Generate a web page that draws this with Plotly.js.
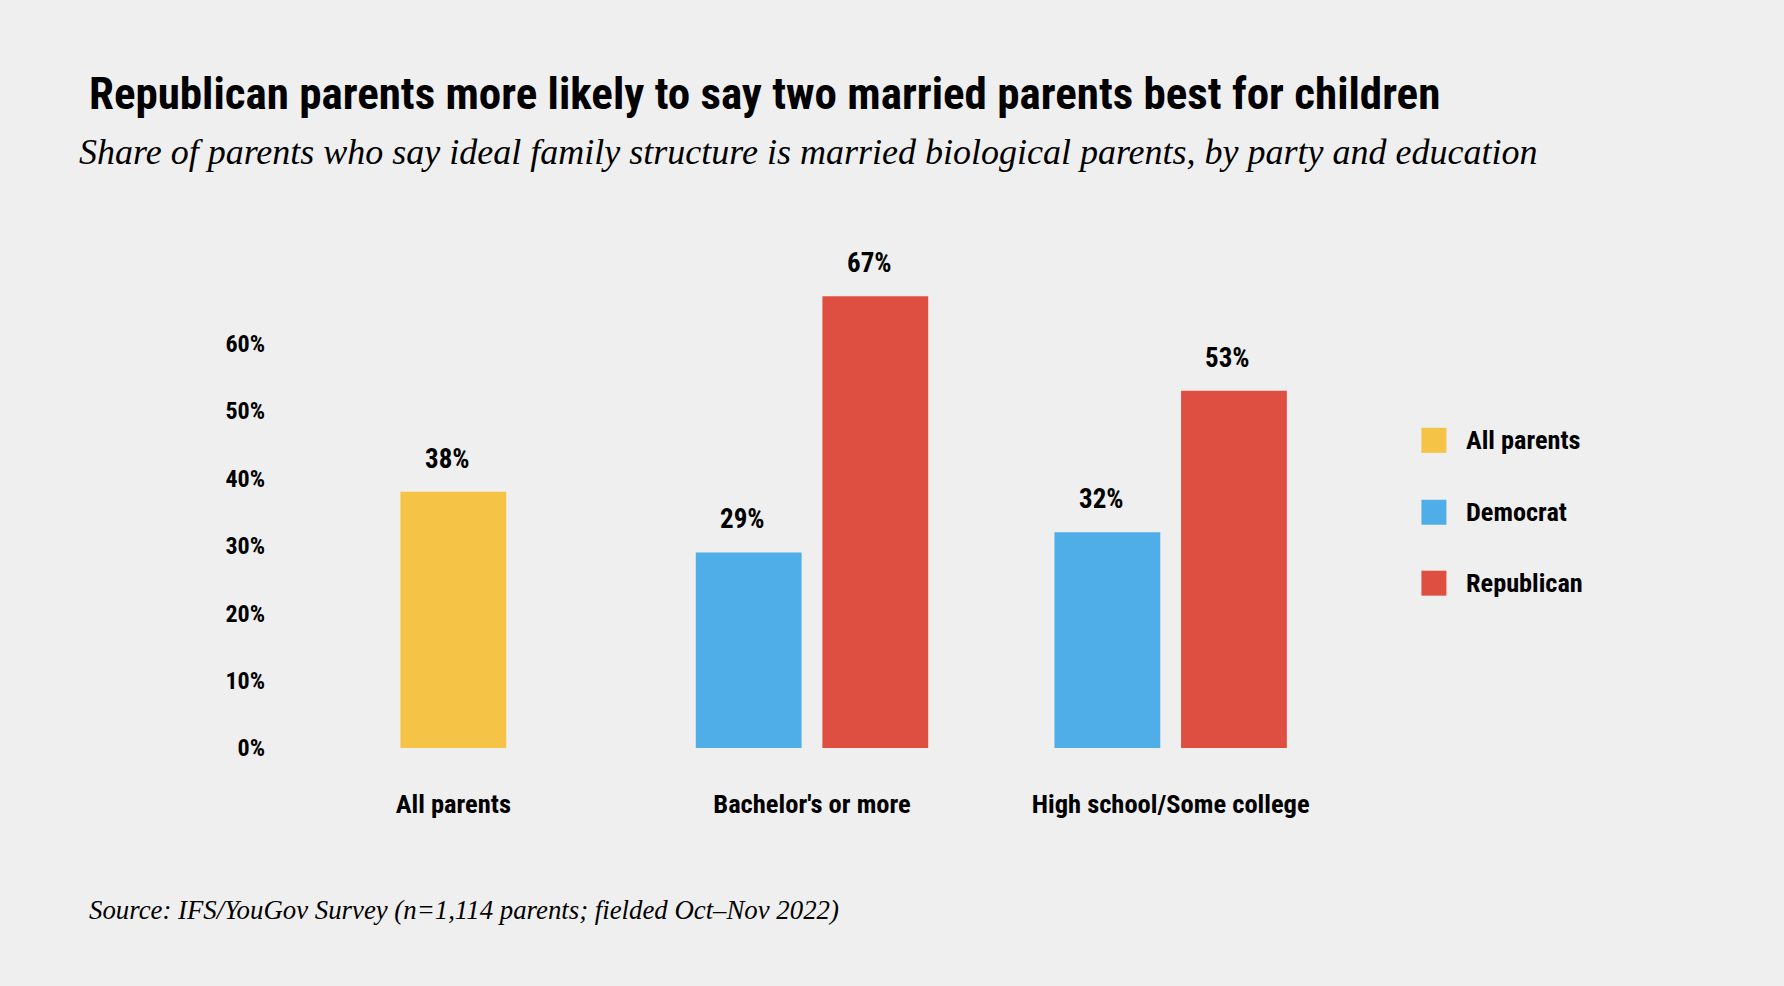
<!DOCTYPE html>
<html>
<head>
<meta charset="utf-8">
<script src="https://cdn.plot.ly/plotly-3.0.1.min.js"></script>
<style>
  html, body { margin: 0; padding: 0; background: #efefef; }
  #chart { width: 1784px; height: 986px; }
  svg text { font-stretch: condensed; }
</style>
</head>
<body>
<div id="chart"></div>
<script>
// ---- data ----
const categories = ["All parents", "Bachelor's or more", "High school/Some college"];
const seriesNames = ["All parents", "Democrat", "Republican"];
const seriesColors = ["#F5C345", "#4FADE8", "#DE4F41"];
const allParentsCats = ["All parents"];
const allParentsVals = [38];
const democratCats = ["Bachelor's or more", "High school/Some college"];
const democratVals = [29, 32];
const republicanCats = ["Bachelor's or more", "High school/Some college"];
const republicanVals = [67, 53];
const yTickVals = [0, 10, 20, 30, 40, 50, 60];

const titleText = "Republican parents more likely to say two married parents best for children";
const subtitleText = "Share of parents who say ideal family structure is married biological parents, by party and education";
const sourceText = "Source: IFS/YouGov Survey (n=1,114 parents; fielded Oct–Nov 2022)";

// ---- layout geometry ----
const W = 1784, H = 986;
const M = { l: 273.5, r: 433.5, t: 275.5, b: 238 };
const plotW = W - M.l - M.r, plotH = H - M.t - M.b;
const px2x = px => (px - M.l) / plotW;
const py2y = py => (H - M.b - py) / plotH;

const narrow = "'Roboto Condensed', 'DejaVu Sans Condensed', 'DejaVu Sans', sans-serif";
const serif = "'Liberation Serif', 'DejaVu Serif', serif";

const barW = 0.295, gap = 0.058;
const offsets = [-barW / 2, -(barW + gap / 2), gap / 2];

const seriesCats = [allParentsCats, democratCats, republicanCats];
const seriesVals = [allParentsVals, democratVals, republicanVals];

const traces = seriesNames.map((name, i) => ({
  type: 'bar',
  name: name,
  x: seriesCats[i],
  y: seriesVals[i],
  width: barW,
  offset: offsets[i],
  marker: { color: seriesColors[i] },
  showlegend: false,
  hoverinfo: 'x+y+name'
}));

const annotations = [];
// value labels
seriesNames.forEach((name, i) => {
  seriesCats[i].forEach((c, j) => {
    annotations.push({
      x: categories.indexOf(c) + offsets[i] + barW / 2,
      y: seriesVals[i][j],
      xref: 'x', yref: 'y',
      text: seriesVals[i][j] + '%',
      showarrow: false,
      yanchor: 'bottom',
      yshift: 15,
      xshift: -6,
      font: { family: narrow, size: 27, color: '#000', weight: 'bold' }
    });
  });
});
// subtitle
annotations.push({
  xref: 'paper', yref: 'paper',
  x: px2x(76.5), y: py2y(151),
  xanchor: 'left', yanchor: 'middle',
  text: '<i>' + subtitleText + '</i>',
  showarrow: false,
  font: { family: serif, size: 36, color: '#000' }
});
// source
annotations.push({
  xref: 'paper', yref: 'paper',
  x: px2x(86), y: py2y(910),
  xanchor: 'left', yanchor: 'middle',
  text: '<i>' + sourceText + '</i>',
  showarrow: false,
  font: { family: serif, size: 26.8, color: '#000' }
});

// legend (manual, built from series arrays)
const shapes = [];
const legendY = [440, 512, 583];
seriesNames.forEach((name, i) => {
  shapes.push({
    type: 'rect', xref: 'paper', yref: 'paper',
    x0: px2x(1422), x1: px2x(1447),
    y0: py2y(legendY[i] - 12.5), y1: py2y(legendY[i] + 12.5),
    fillcolor: seriesColors[i], line: { width: 0 }
  });
  annotations.push({
    xref: 'paper', yref: 'paper',
    x: px2x(1465), y: py2y(legendY[i]),
    xanchor: 'left', yanchor: 'middle',
    text: name, showarrow: false,
    font: { family: narrow, size: 26.3, color: '#000', weight: 'bold' }
  });
});

const layout = {
  width: W, height: H,
  margin: M,
  paper_bgcolor: '#efefef',
  plot_bgcolor: '#efefef',
  barmode: 'overlay',
  showlegend: false,
  title: {
    text: '<b>' + titleText + '</b>',
    xref: 'container', yref: 'container',
    x: 89 / W, xanchor: 'left',
    y: 1 - 93 / H, yanchor: 'middle',
    font: { family: narrow, size: 45, color: '#000' }
  },
  xaxis: {
    type: 'category',
    categoryorder: 'array',
    categoryarray: categories,
    range: [-0.5, 2.5],
    showgrid: false, zeroline: false, showline: false,
    ticks: '',
    ticklabelstandoff: 37,
    tickfont: { family: narrow, size: 26.5, color: '#000', weight: 'bold' },
    fixedrange: true
  },
  yaxis: {
    range: [0, 70],
    tickvals: yTickVals,
    ticktext: yTickVals.map(v => v + '%'),
    showgrid: false, zeroline: false, showline: false,
    ticks: '',
    ticklabelstandoff: 8,
    tickfont: { family: narrow, size: 24, color: '#000', weight: 'bold' },
    fixedrange: true
  },
  annotations: annotations,
  shapes: shapes
};

Plotly.newPlot('chart', traces, layout, { displayModeBar: false, staticPlot: true });
</script>
</body>
</html>
